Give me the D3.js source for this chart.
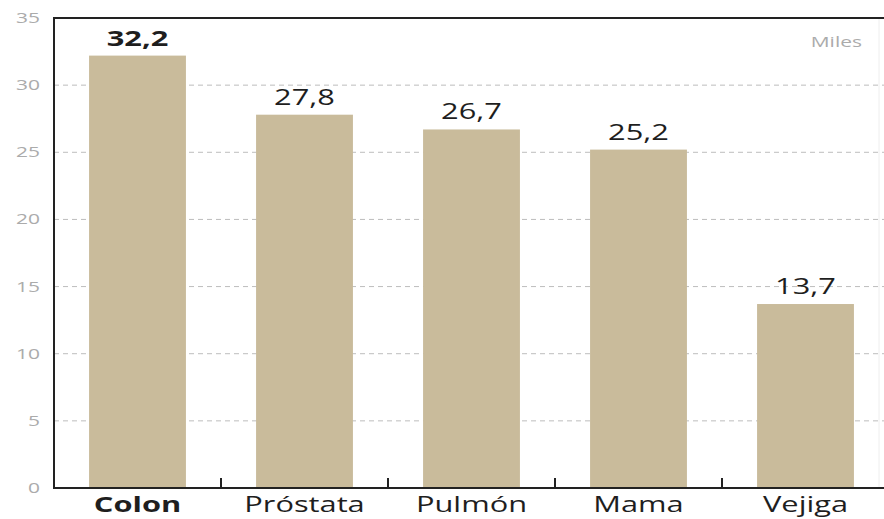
<!DOCTYPE html>
<html>
<head>
<meta charset="utf-8">
<script src="https://cdn.jsdelivr.net/npm/d3@7"></script>
<style>
  html, body { margin: 0; padding: 0; background: #fff; }
  svg { display: block; }
</style>
</head>
<body>
<svg id="chart" width="884" height="519"></svg>
<script>
// Casos por tipo de cáncer (miles)
const categories = ["Colon", "Próstata", "Pulmón", "Mama", "Vejiga"];
const values = [32.2, 27.8, 26.7, 25.2, 13.7];
const valueLabels = ["32,2", "27,8", "26,7", "25,2", "13,7"];
const yTicks = [0, 5, 10, 15, 20, 25, 30, 35];
const unitLabel = "Miles";

const svg = d3.select("#chart");
const plotLeft = 54, plotRight = 889, plotTop = 18, plotBottom = 488;
const FONT = "Open Sans, sans-serif";
const SX = 1.4; // wide lettering

const x = d3.scaleBand().domain(categories).range([plotLeft, plotRight]).paddingInner(0.42).paddingOuter(0.21);
const y = d3.scaleLinear().domain([0, 35]).range([plotBottom, plotTop]);

const place = (px, py) => `translate(${px},${py}) scale(${SX},1)`;

// faint right border
svg.append("line").attr("x1", 879).attr("x2", 879).attr("y1", plotTop).attr("y2", plotBottom)
  .attr("stroke", "#eee").attr("stroke-width", 1);

// dashed gridlines
svg.append("g").selectAll("line").data(yTicks.filter(d => d > 0 && d < 35)).join("line")
  .attr("x1", plotLeft).attr("x2", 884)
  .attr("y1", d => y(d)).attr("y2", d => y(d))
  .attr("stroke", "#bdbdbd").attr("stroke-width", 1).attr("stroke-dasharray", "5,4");

// y tick labels
svg.append("g").selectAll("text").data(yTicks).join("text")
  .attr("transform", d => place(40, y(d) + 5))
  .attr("text-anchor", "end")
  .attr("font-family", FONT).attr("font-size", 15)
  .attr("fill", "#ababab")
  .text(d => d);

// bars
svg.append("g").selectAll("rect").data(categories).join("rect")
  .attr("x", d => x(d))
  .attr("width", x.bandwidth())
  .attr("y", (d, i) => y(values[i]))
  .attr("height", (d, i) => y(0) - y(values[i]))
  .attr("fill", "#c9bb9b");

// value labels
svg.append("g").selectAll("text").data(categories).join("text")
  .attr("transform", (d, i) => place(x(d) + x.bandwidth() / 2, y(values[i]) - 10))
  .attr("text-anchor", "middle")
  .attr("font-family", FONT).attr("font-size", 22)
  .attr("font-weight", (d, i) => i === 0 ? 700 : 400)
  .attr("fill", "#1e1e1e")
  .text((d, i) => valueLabels[i]);

// frame: top and left edges
svg.append("line").attr("x1", plotLeft).attr("x2", 884).attr("y1", plotTop).attr("y2", plotTop)
  .attr("stroke", "#222").attr("stroke-width", 2);
svg.append("line").attr("x1", plotLeft).attr("x2", plotLeft).attr("y1", plotTop - 1).attr("y2", plotBottom + 1)
  .attr("stroke", "#222").attr("stroke-width", 2);

// x axis with ticks between categories
const xAxis = svg.append("g").attr("transform", `translate(0,${plotBottom})`);
xAxis.append("line").attr("x1", plotLeft).attr("x2", 884).attr("y1", 0).attr("y2", 0)
  .attr("stroke", "#222").attr("stroke-width", 2);
xAxis.selectAll("line.tick").data(categories.slice(1)).join("line").attr("class", "tick")
  .attr("x1", d => x(d) - x.step() * x.paddingInner() / 2)
  .attr("x2", d => x(d) - x.step() * x.paddingInner() / 2)
  .attr("y1", 0).attr("y2", -10)
  .attr("stroke", "#222").attr("stroke-width", 2);
xAxis.selectAll("text").data(categories).join("text")
  .attr("transform", d => place(x(d) + x.bandwidth() / 2, 24))
  .attr("text-anchor", "middle")
  .attr("font-family", FONT).attr("font-size", 22)
  .attr("font-weight", (d, i) => i === 0 ? 700 : 400)
  .attr("fill", "#1e1e1e")
  .text(d => d);

// unit note
svg.append("text").attr("transform", place(862, 47)).attr("text-anchor", "end")
  .attr("font-family", FONT).attr("font-size", 15)
  .attr("fill", "#ababab").text(unitLabel);
</script>
</body>
</html>
